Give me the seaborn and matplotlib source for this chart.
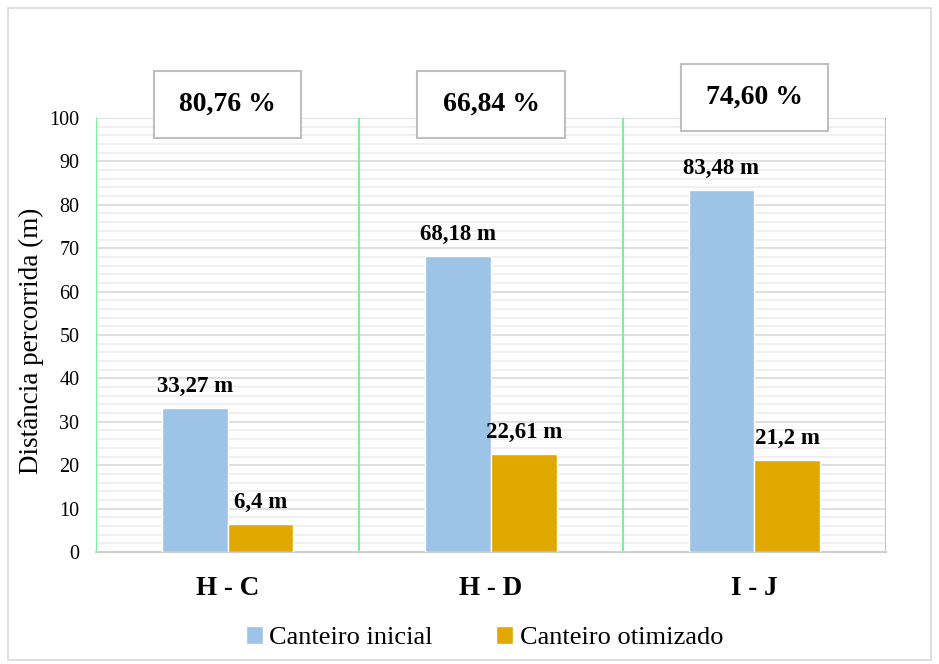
import matplotlib
matplotlib.use("Agg")
import matplotlib.pyplot as plt
from matplotlib.patches import Rectangle
from matplotlib.ticker import MultipleLocator
import seaborn as sns
import pandas as pd

# Distances walked per route, before and after the site layout optimisation
routes = ["H - C", "H - D", "I - J"]
initial = [33.27, 68.18, 83.48]
optimized = [6.4, 22.61, 21.2]
reduction_labels = ["80,76 %", "66,84 %", "74,60 %"]
series_names = ["Canteiro inicial", "Canteiro otimizado"]

df = pd.DataFrame({
    "rota": routes * 2,
    "dist": initial + optimized,
    "serie": [series_names[0]] * 3 + [series_names[1]] * 3,
})

sns.set_theme(style="white")
plt.rcParams["font.family"] = ["Liberation Serif", "DejaVu Serif"]
plt.rcParams["text.color"] = "black"
plt.rcParams["axes.labelcolor"] = "black"
plt.rcParams["xtick.color"] = "black"
plt.rcParams["ytick.color"] = "black"

fig = plt.figure(figsize=(9.39, 6.64), dpi=100)
ax = fig.add_axes([0.1022, 0.1687, 0.8414, 0.6536])

palette = {series_names[0]: "#9DC3E6", series_names[1]: "#E1A900"}
sns.barplot(data=df, x="rota", y="dist", hue="serie", palette=palette,
            width=0.5, gap=0, saturation=1, ax=ax, legend=False, zorder=3)

ax.set_ylim(0, 100)
ax.set_xlim(-0.5, 2.5)
ax.yaxis.set_major_locator(MultipleLocator(10))
ax.yaxis.set_minor_locator(MultipleLocator(2))
ax.grid(axis="y", which="major", color="#D9D9D9", linewidth=1.2, zorder=0)
ax.grid(axis="y", which="minor", color="#EDEDED", linewidth=1.2, zorder=0)
ax.set_axisbelow(True)

for s in ["top", "right", "left"]:
    ax.spines[s].set_visible(False)
ax.spines["bottom"].set_color("#D0D0D0")
ax.spines["bottom"].set_linewidth(1.5)

# green separators between the route groups
for xv in [-0.5, 0.5, 1.5, 2.5]:
    ax.axvline(xv, color="#7DF09A", linewidth=1.5, zorder=2)

ax.tick_params(axis="y", which="both", length=0, labelsize=14.5, pad=12)
ax.tick_params(axis="x", length=0, labelsize=19.5, pad=17)
for lbl in ax.get_xticklabels():
    lbl.set_fontweight("bold")
ax.set_xlabel("")
ax.set_ylabel("Distância percorrida (m)", fontsize=19.5)
ax.yaxis.set_label_coords(-0.066, 0.487)

# value labels over each bar
for container in ax.containers:
    labels = [f"{v:g}".replace(".", ",") + " m" for v in container.datavalues]
    ax.bar_label(container, labels=labels, padding=8, fontsize=16.5,
                 fontweight="bold")

# reduction boxes above each group
box_y = [95.4, 95.4, 97.0]
for i, txt in enumerate(reduction_labels):
    rect = Rectangle((i - 0.28, box_y[i]), 0.56, 15.4, facecolor="white",
                     edgecolor="#BFBFBF", linewidth=1.5, clip_on=False,
                     zorder=5)
    ax.add_patch(rect)
    ax.text(i, box_y[i] + 7.7, txt, ha="center", va="center", fontsize=20,
            fontweight="bold", zorder=6, clip_on=False)

handles = [Rectangle((0, 0), 1, 1, facecolor=palette[n]) for n in series_names]
fig.legend(handles, series_names, loc="center", bbox_to_anchor=(0.516, 0.04),
           ncol=2, frameon=False, fontsize=19, handlelength=0.65,
           handleheight=0.65, handletextpad=0.25, columnspacing=2.4)

# outer chart frame
fig.patches.append(Rectangle((0.009, 0.006), 0.982, 0.982,
                             transform=fig.transFigure, fill=False,
                             edgecolor="#D9D9D9", linewidth=1.2))

fig.savefig("out.png", dpi=100)
